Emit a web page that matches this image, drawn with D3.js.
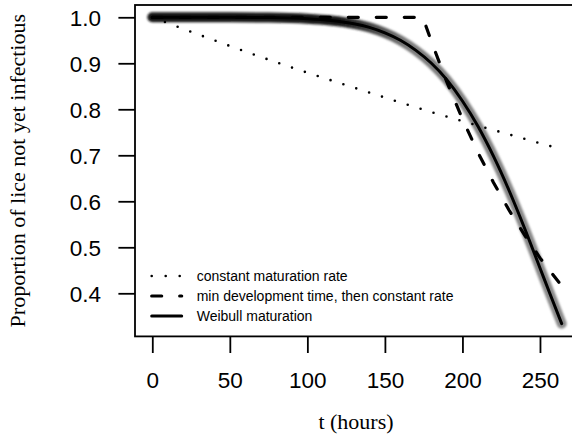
<!DOCTYPE html>
<html lang="en">
<head>
    <meta charset="UTF-8">
    <title>Proportion of lice not yet infectious</title>
    <script src="https://d3js.org/d3.v7.min.js"></script>
    <style>
        body, html {
            margin: 0;
            padding: 0;
            background: #ffffff;
        }
        svg {
            display: block;
        }
        .tick text {
            font-family: 'Liberation Sans', Arial, sans-serif;
            font-size: 22.5px;
            fill: #000;
        }
        .tick line {
            stroke: #000;
            stroke-width: 1.8;
        }
        .title {
            font-family: 'Liberation Serif', 'Times New Roman', serif;
            font-size: 22px;
            fill: #000;
        }
        .legend text {
            font-family: 'Liberation Sans', Arial, sans-serif;
            font-size: 14px;
            fill: #000;
        }
    </style>
</head>
<body>
<svg id="chart" width="572" height="441"></svg>

<script>
    // values
    const xTicks = [0, 50, 100, 150, 200, 250];
    const yTicks = [0.4, 0.5, 0.6, 0.7, 0.8, 0.9, 1.0];

    const constT = [0, 44, 88, 132, 176, 220, 264];
    const constP = [1.0, 0.945, 0.893, 0.845, 0.798, 0.755, 0.713];

    const minDevT = [0, 174.5, 180, 190, 200, 210, 220, 230, 240, 250, 264];
    const minDevP = [1.0, 1.0, 0.947, 0.859, 0.779, 0.706, 0.641, 0.581, 0.527, 0.477, 0.416];

    const weibT = [0, 25, 50, 75, 100, 115, 130, 140, 150, 160, 170, 180, 190, 200, 210, 220, 230, 240, 250, 257, 264];
    const weibP = [1.0, 1.0, 1.0, 0.9995, 0.997, 0.993, 0.986, 0.978, 0.966, 0.95, 0.928, 0.9, 0.864, 0.818, 0.763, 0.698, 0.624, 0.542, 0.455, 0.394, 0.334];

    const legendLabels = ['constant maturation rate', 'min development time, then constant rate', 'Weibull maturation'];

    const svg = d3.select('#chart');

    const x = d3.scaleLinear().domain([-11.15, 290]).range([135, 602]);
    const y = d3.scaleLinear().domain([0.3063, 1.0267]).range([336.4, 5]);

    const toPts = (ts, ps) => ts.map((t, i) => [t, ps[i]]);
    const line = d3.line().x(d => x(d[0])).y(d => y(d[1])).curve(d3.curveMonotoneX);
    const straight = d3.line().x(d => x(d[0])).y(d => y(d[1]));

    // band behind weibull line: dark where the runs overlap, grey where they spread
    const defs = svg.append('defs');
    const grad = defs.append('linearGradient')
        .attr('id', 'bandGrad')
        .attr('gradientUnits', 'userSpaceOnUse')
        .attr('x1', x(0)).attr('x2', x(264))
        .attr('y1', 0).attr('y2', 0);
    grad.append('stop').attr('offset', 120 / 264).attr('stop-color', '#151515');
    grad.append('stop').attr('offset', 165 / 264).attr('stop-color', '#7e7e7e');
    grad.append('stop').attr('offset', 1).attr('stop-color', '#8c8c8c');
    defs.append('filter').attr('id', 'soft')
        .append('feGaussianBlur').attr('stdDeviation', 0.9);

    const plot = svg.append('g');

    plot.append('path')
        .datum(toPts(weibT, weibP))
        .attr('d', line)
        .attr('fill', 'none')
        .attr('stroke', 'url(#bandGrad)')
        .attr('stroke-width', 10)
        .attr('stroke-linecap', 'round')
        .attr('filter', 'url(#soft)');

    plot.append('path')
        .datum(toPts(weibT, weibP))
        .attr('d', line)
        .attr('fill', 'none')
        .attr('stroke', '#000')
        .attr('stroke-width', 3)
        .attr('stroke-linecap', 'round');

    plot.append('path')
        .datum(toPts(constT, constP))
        .attr('d', line)
        .attr('fill', 'none')
        .attr('stroke', '#000')
        .attr('stroke-width', 2.6)
        .attr('stroke-linecap', 'round')
        .attr('stroke-dasharray', '0 13.5');

    plot.append('path')
        .datum(toPts(minDevT, minDevP))
        .attr('d', straight)
        .attr('fill', 'none')
        .attr('stroke', '#000')
        .attr('stroke-width', 3.2)
        .attr('stroke-linecap', 'round')
        .attr('stroke-dasharray', '10 18');

    // box
    svg.append('rect')
        .attr('x', x.range()[0]).attr('y', y.range()[1])
        .attr('width', x.range()[1] - x.range()[0])
        .attr('height', y.range()[0] - y.range()[1])
        .attr('fill', 'none')
        .attr('stroke', '#000')
        .attr('stroke-width', 1.8);

    // axes
    const xAxis = svg.append('g')
        .attr('transform', `translate(0,${y.range()[0]})`)
        .call(d3.axisBottom(x).tickValues(xTicks).tickFormat(d3.format('d')).tickSize(16.6).tickPadding(19.5));
    xAxis.select('.domain').remove();

    const yAxis = svg.append('g')
        .attr('transform', `translate(${x.range()[0]},0)`)
        .call(d3.axisLeft(y).tickValues(yTicks).tickFormat(d3.format('.1f')).tickSize(16.6).tickPadding(17.4));
    yAxis.select('.domain').remove();
    yAxis.selectAll('.tick text').attr('dy', '0.36em');

    // titles
    svg.append('text')
        .attr('class', 'title')
        .attr('x', 356)
        .attr('y', 429)
        .attr('text-anchor', 'middle')
        .text('t (hours)');

    svg.append('text')
        .attr('class', 'title')
        .attr('transform', `translate(25,${(y.range()[0] + y.range()[1]) / 2}) rotate(-90)`)
        .attr('text-anchor', 'middle')
        .text('Proportion of lice not yet infectious');

    // legend
    const legendY = [276, 296, 316];
    const dashes = ['0 14', '10 18', null];
    const widths = [2.6, 3.2, 3];
    const legend = svg.append('g').attr('class', 'legend');
    legendLabels.forEach((lab, i) => {
        const l = legend.append('line')
            .attr('x1', 151.7).attr('x2', 181.7)
            .attr('y1', legendY[i]).attr('y2', legendY[i])
            .attr('stroke', '#000')
            .attr('stroke-width', widths[i])
            .attr('stroke-linecap', 'round');
        if (dashes[i]) l.attr('stroke-dasharray', dashes[i]);
        legend.append('text')
            .attr('x', 196.7)
            .attr('y', legendY[i] + 5)
            .text(lab);
    });
</script>
</body>
</html>
